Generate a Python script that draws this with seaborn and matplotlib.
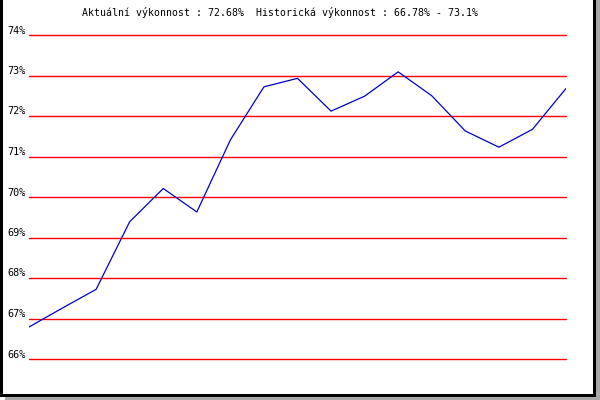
import matplotlib
matplotlib.use("Agg")
import matplotlib.pyplot as plt
import matplotlib.transforms as mtransforms
from matplotlib.patches import Rectangle
import seaborn as sns
import pandas as pd

# ---- data ----
periods = list(range(17))
performance = [66.79, 67.26, 67.72, 69.39, 70.21, 69.63, 71.41, 72.72, 72.93,
               72.12, 72.49, 73.09, 72.50, 71.63, 71.23, 71.67, 72.68]
tick_values = [66, 67, 68, 69, 70, 71, 72, 73, 74]
tick_labels = ["66%", "67%", "68%", "69%", "70%", "71%", "72%", "73%", "74%"]
title_text = "Aktuální výkonnost : 72.68%  Historická výkonnost : 66.78% - 73.1%"

df = pd.DataFrame({"period": periods, "performance": performance})

sns.set_style("white")
plt.rcParams["font.family"] = ["DejaVu Sans Mono", "DejaVu Sans"]

W, H = 600, 400
fig = plt.figure(figsize=(6, 4), dpi=100)
fig.patch.set_facecolor("white")

# axes occupies pixel box x 29..566, y 35..359 (from top)
ax = fig.add_axes([29 / W, (H - 359) / H, (566 - 29) / W, (359 - 35) / H])
ax.set_xlim(0, 16)
ax.set_ylim(66, 74)

for v in tick_values:
    ax.axhline(v, color="#ff0000", lw=1.0, zorder=1, clip_on=False)

sns.lineplot(data=df, x="period", y="performance", ax=ax, color="#0000cc",
             lw=0.9, zorder=3, legend=False)

ax.set_xticks([])
ax.set_yticks(tick_values)
ax.set_yticklabels(tick_labels, fontsize=7.3, color="black")
ax.tick_params(axis="y", length=0, pad=2.5)
offset = mtransforms.ScaledTranslation(0, 5.5 / 100, fig.dpi_scale_trans)
for lab in ax.get_yticklabels():
    lab.set_transform(lab.get_transform() + offset)
ax.set_xlabel("")
ax.set_ylabel("")
for s in ax.spines.values():
    s.set_visible(False)
ax.patch.set_alpha(0)

fig.text(280 / W, (H - 13) / H, title_text, ha="center", va="center",
         fontsize=7.15, color="black")

# frame: black border left/bottom/right and grey shadow
def px_rect(x0, y0, x1, y1, color):
    fig.patches.append(Rectangle((x0 / W, (H - y1) / H), (x1 - x0) / W, (y1 - y0) / H,
                                 transform=fig.transFigure, facecolor=color,
                                 edgecolor="none", zorder=10))

px_rect(0, 0, 3, 397, "black")
px_rect(0, 394, 595, 397, "black")
px_rect(592.5, 0, 595.5, 397, "black")
px_rect(595.5, 0, 600, 400, "#a9a9a9")
px_rect(5, 397, 600, 400, "#a9a9a9")

fig.savefig("out.png", dpi=100, facecolor="white")
